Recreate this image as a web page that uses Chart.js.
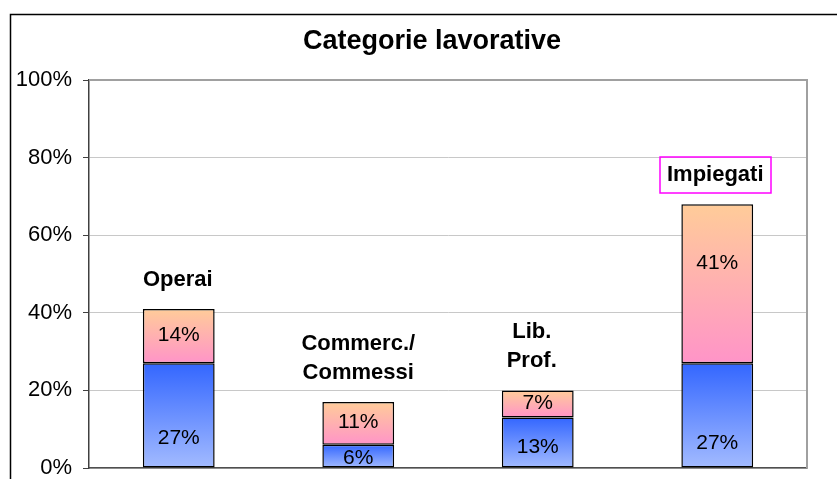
<!DOCTYPE html>
<html>
<head>
<meta charset="utf-8">
<script src="https://cdn.jsdelivr.net/npm/chart.js@4/dist/chart.umd.min.js"></script>
<style>
  html, body { margin: 0; padding: 0; background: #ffffff; }
  #wrap { position: relative; width: 837px; height: 479px; }
</style>
</head>
<body>
<div id="wrap"><canvas id="c" width="837" height="479"></canvas></div>
<script>
// ---- data ----
const titleText = 'Categorie lavorative';
const categories = ['Operai', 'Commerc./ Commessi', 'Lib. Prof.', 'Impiegati'];
const categoryLines = [['Operai'], ['Commerc./', 'Commessi'], ['Lib.', 'Prof.'], ['Impiegati']];
const seriesLower = [27, 6, 13, 27];
const seriesUpper = [14, 11, 7, 41];
const yTickValues = [0, 20, 40, 60, 80, 100];

// ---- style helpers (not data) ----
const lowerLabelShift = [23, 2, 5, 28];
const upperLabelShift = [-1, -1, -1, -20];
const catLabelShiftX = [-1, 0, -6, -2];
const boxedCategory = 3;

function gradFill(context, top, bottom, fallback) {
  const chart = context.chart;
  const ys = chart.scales && chart.scales.y;
  if (!chart.chartArea || !ys) return fallback;
  const i = context.dataIndex;
  const lo = context.datasetIndex === 0 ? 0 : seriesLower[i];
  const hi = context.datasetIndex === 0 ? seriesLower[i] : seriesLower[i] + seriesUpper[i];
  const yTop = ys.getPixelForValue(hi);
  const yBot = ys.getPixelForValue(lo);
  if (!isFinite(yTop) || !isFinite(yBot) || yTop === yBot) return fallback;
  const g = chart.ctx.createLinearGradient(0, yTop, 0, yBot);
  g.addColorStop(0, top);
  g.addColorStop(1, bottom);
  return g;
}

const decorPlugin = {
  id: 'decor',
  beforeDraw(chart) {
    const ctx = chart.ctx;
    ctx.save();
    ctx.fillStyle = '#ffffff';
    ctx.fillRect(0, 0, chart.width, chart.height);
    // outer chart border
    ctx.strokeStyle = '#000000';
    ctx.lineWidth = 1.5;
    ctx.beginPath();
    ctx.moveTo(10.5, chart.height + 5);
    ctx.lineTo(10.5, 14.5);
    ctx.lineTo(chart.width + 5, 14.5);
    ctx.stroke();
    ctx.restore();
  },
  afterDatasetsDraw(chart) {
    const ctx = chart.ctx;
    const area = chart.chartArea;
    ctx.save();
    // plot area top/right border
    ctx.strokeStyle = '#a0a0a0';
    ctx.lineWidth = 2;
    ctx.beginPath();
    ctx.moveTo(area.left, area.top);
    ctx.lineTo(area.right, area.top);
    ctx.lineTo(area.right, area.bottom);
    ctx.stroke();

    // value labels
    ctx.fillStyle = '#000000';
    ctx.font = '21px "Liberation Sans", Arial, sans-serif';
    ctx.textAlign = 'center';
    ctx.textBaseline = 'middle';
    const m0 = chart.getDatasetMeta(0).data;
    const m1 = chart.getDatasetMeta(1).data;
    m0.forEach((el, i) => {
      const cy = (el.y + el.base) / 2 + lowerLabelShift[i];
      ctx.fillText(seriesLower[i] + '%', el.x, cy);
    });
    m1.forEach((el, i) => {
      const cy = (el.y + el.base) / 2 + upperLabelShift[i];
      ctx.fillText(seriesUpper[i] + '%', el.x, cy);
    });

    // category labels above bars
    ctx.font = 'bold 22px "Liberation Sans", Arial, sans-serif';
    const lineH = 29;
    m1.forEach((el, i) => {
      const lines = categoryLines[i];
      const x = el.x + catLabelShiftX[i];
      const lastY = el.y - 29;
      lines.forEach((t, k) => {
        const y = lastY - (lines.length - 1 - k) * lineH;
        ctx.fillStyle = '#000000';
        ctx.fillText(t, x, y);
      });
      if (i === boxedCategory) {
        const w = ctx.measureText(lines[0]).width + 14;
        ctx.strokeStyle = '#ff00ff';
        ctx.lineWidth = 1.5;
        ctx.strokeRect(Math.round(x - w / 2), Math.round(lastY - 18), Math.round(w), 36);
      }
    });

    // title
    ctx.fillStyle = '#000000';
    ctx.font = 'bold 27px "Liberation Sans", Arial, sans-serif';
    ctx.fillText(titleText, 432, 42);
    ctx.restore();
  }
};

new Chart(document.getElementById('c'), {
  type: 'bar',
  data: {
    labels: categories,
    datasets: [
      {
        label: 'lower',
        data: seriesLower,
        backgroundColor: (c) => gradFill(c, '#3366ff', '#a3bbff', '#6688ff'),
        borderColor: '#000000',
        borderWidth: 1.5,
        borderSkipped: false,
        barPercentage: 0.4,
        categoryPercentage: 1.0
      },
      {
        label: 'upper',
        data: seriesUpper,
        backgroundColor: (c) => gradFill(c, '#ffcc99', '#ff94c8', '#ffb0b0'),
        borderColor: '#000000',
        borderWidth: 1.5,
        borderSkipped: false,
        barPercentage: 0.4,
        categoryPercentage: 1.0
      }
    ]
  },
  options: {
    responsive: false,
    animation: false,
    devicePixelRatio: 1,
    layout: { padding: { left: 0, top: 80, right: 30, bottom: 11 } },
    plugins: {
      legend: { display: false },
      title: { display: false },
      tooltip: { enabled: false }
    },
    scales: {
      x: {
        stacked: true,
        grid: { display: false },
        ticks: { display: false },
        border: { display: true, color: '#505050', width: 1.5 },
        afterFit(scale) { scale.height = 0; scale.paddingLeft = 0; scale.paddingRight = 0; }
      },
      y: {
        stacked: true,
        min: 0,
        max: 100,
        afterBuildTicks(scale) { scale.ticks = yTickValues.map(v => ({ value: v })); },
        afterFit(scale) { scale.width = 89; scale.paddingTop = 0; scale.paddingBottom = 0; },
        grid: {
          color: (c) => (c.tick && c.tick.value === 100 ? '#a0a0a0' : '#c8c8c8'),
          tickColor: '#404040',
          tickLength: 6,
          lineWidth: 1
        },
        border: { display: true, color: '#404040', width: 1.5 },
        ticks: {
          padding: 11,
          color: '#000000',
          font: { family: '"Liberation Sans", Arial, sans-serif', size: 22 },
          callback: (v) => v + '%'
        }
      }
    }
  },
  plugins: [decorPlugin]
});
</script>
</body>
</html>
